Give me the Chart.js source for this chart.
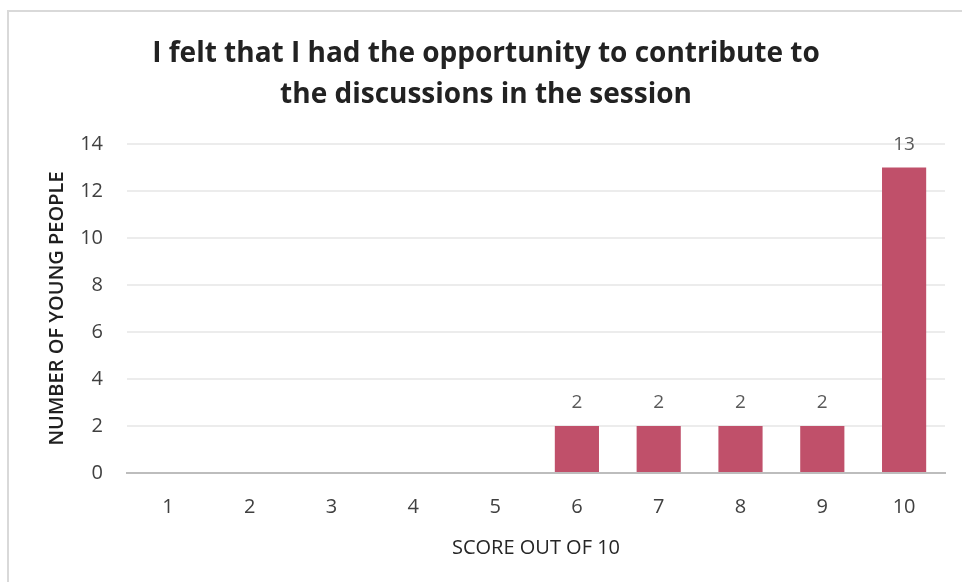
<!DOCTYPE html>
<html>
<head>
<meta charset="utf-8">
<title>Contribution score chart</title>
<script src="https://cdn.jsdelivr.net/npm/chart.js@4.4.1/dist/chart.umd.min.js"></script>
<style>
    html, body { margin: 0; padding: 0; background: #fff; overflow: hidden; }
    #wrap { position: relative; width: 962px; height: 582px; }
    #frame {
        position: absolute; left: 7px; top: 10px;
        width: 1000px; height: 700px;
        border: 2px solid #d9d9d9; box-sizing: border-box;
    }
    #chart { position: absolute; left: 0; top: 0; }
</style>
</head>
<body>
<div id="wrap">
    <div id="frame"></div>
    <canvas id="chart" width="962" height="582"></canvas>
</div>
<script>
    "use strict";

    // ---------------------------------------------------------
    // Data
    // ---------------------------------------------------------
    const scores = ["1", "2", "3", "4", "5", "6", "7", "8", "9", "10"];
    const youngPeople = [0, 0, 0, 0, 0, 2, 2, 2, 2, 13];
    const titleLines = [
        "I felt that I had the opportunity to contribute to",
        "the discussions in the session"
    ];
    const xTitle = "SCORE OUT OF 10";
    const yTitle = "NUMBER OF YOUNG PEOPLE";

    const barColor = "#c0506a";
    const fontFamily = "'Open Sans', 'Noto Sans', sans-serif";

    // Value labels above each non-zero bar
    const valueLabels = {
        id: "valueLabels",
        afterDatasetsDraw(chart) {
            const ctx = chart.ctx;
            const meta = chart.getDatasetMeta(0);
            ctx.save();
            ctx.fillStyle = "#595959";
            ctx.font = "19px " + fontFamily;
            ctx.textAlign = "center";
            ctx.textBaseline = "middle";
            meta.data.forEach((bar, i) => {
                const v = youngPeople[i];
                if (!v) return;
                ctx.fillText(String(v), bar.x, bar.y - 23);
            });
            ctx.restore();
        }
    };

    const canvas = document.getElementById("chart");

    new Chart(canvas, {
        type: "bar",
        data: {
            labels: scores,
            datasets: [
                {
                    label: "Young people",
                    data: youngPeople,
                    backgroundColor: barColor,
                    borderWidth: 0,
                    categoryPercentage: 0.54,
                    barPercentage: 1.0,
                },
            ],
        },
        options: {
            responsive: false,
            animation: false,
            layout: {
                padding: { left: 27, right: 17, top: 0, bottom: 18 },
            },
            plugins: {
                legend: { display: false },
                tooltip: { enabled: false },
                title: {
                    display: true,
                    text: titleLines,
                    color: "#222",
                    font: { family: fontFamily, size: 28, weight: "bold", lineHeight: 1.464 },
                    padding: { top: 34, bottom: 28 },
                },
            },
            scales: {
                x: {
                    afterFit(scale) { scale.height = 582 - 473 - 18; },
                    grid: { display: false, drawTicks: false },
                    border: { display: true, color: "#bdbdbd", width: 2 },
                    ticks: {
                        color: "#404040",
                        font: { family: fontFamily, size: 20 },
                        padding: 22,
                    },
                    title: {
                        display: true,
                        text: xTitle,
                        color: "#262626",
                        font: { family: fontFamily, size: 20 },
                        padding: { top: 0, bottom: 4 },
                    },
                },
                y: {
                    afterFit(scale) { scale.width = 127 - 27; },
                    min: 0,
                    max: 14,
                    ticks: {
                        stepSize: 2,
                        color: "#404040",
                        font: { family: fontFamily, size: 20 },
                        padding: 24,
                    },
                    grid: { color: "#ececec", lineWidth: 2, drawTicks: false },
                    border: { display: false },
                    title: {
                        display: true,
                        text: yTitle,
                        color: "#1f1f1f",
                        font: { family: fontFamily, size: 20, weight: "600" },
                        padding: { top: 18, bottom: 0 },
                    },
                },
            },
        },
        plugins: [valueLabels],
    });
</script>
</body>
</html>
